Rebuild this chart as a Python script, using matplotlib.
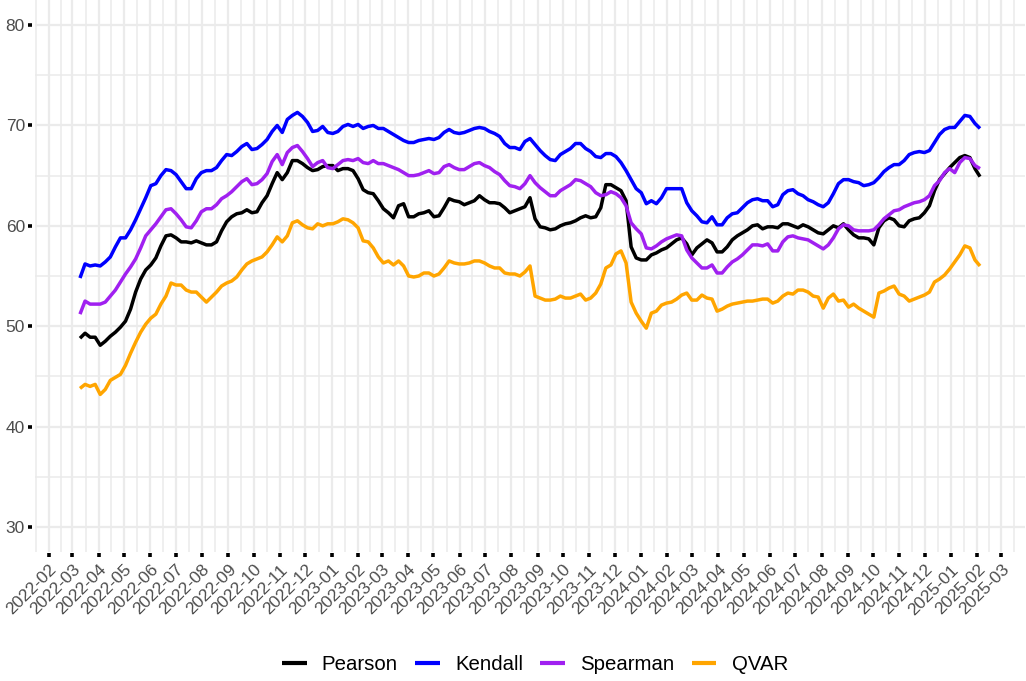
import matplotlib
matplotlib.use('Agg')
import matplotlib.pyplot as plt
import matplotlib.dates as mdates
import numpy as np
import pandas as pd

plt.rcParams['font.family'] = ['Liberation Sans', 'DejaVu Sans']

# ---- data ----
dates = pd.date_range('2022-03-10', '2025-02-04', periods=179)

pearson = [
    48.8, 49.3, 48.9, 48.9, 48.1, 48.5, 49.0, 49.4, 49.9, 50.5,
    51.7, 53.4, 54.7, 55.6, 56.1, 56.8, 58.0, 59.0, 59.1, 58.8,
    58.4, 58.4, 58.3, 58.5, 58.3, 58.1, 58.1, 58.4, 59.5, 60.4,
    60.9, 61.2, 61.3, 61.6, 61.3, 61.4, 62.3, 63.0, 64.2, 65.3,
    64.6, 65.3, 66.5, 66.5, 66.2, 65.8, 65.5, 65.6, 65.9, 66.0,
    66.0, 65.5, 65.7, 65.7, 65.5, 64.7, 63.6, 63.3, 63.2, 62.5,
    61.7, 61.3, 60.8, 62.0, 62.2, 60.9, 60.9, 61.2, 61.3, 61.5,
    60.9, 61.0, 61.8, 62.7, 62.5, 62.4, 62.1, 62.3, 62.5, 63.0,
    62.6, 62.3, 62.3, 62.2, 61.8, 61.3, 61.5, 61.7, 61.9, 62.8,
    60.7, 59.9, 59.8, 59.6, 59.7, 60.0, 60.2, 60.3, 60.5, 60.8,
    61.0, 60.8, 60.9, 61.8, 64.1, 64.1, 63.8, 63.5, 62.5, 57.9,
    56.8, 56.6, 56.6, 57.1, 57.3, 57.6, 57.8, 58.2, 58.6, 58.8,
    58.2, 57.1, 57.8, 58.2, 58.6, 58.3, 57.4, 57.4, 57.9, 58.6,
    59.0, 59.3, 59.6, 60.0, 60.1, 59.7, 59.9, 59.9, 59.8, 60.2,
    60.2, 60.0, 59.8, 60.1, 59.9, 59.6, 59.3, 59.2, 59.6, 60.0,
    59.8, 60.2, 59.6, 59.1, 58.8, 58.8, 58.7, 58.1, 59.8, 60.5,
    60.8, 60.6, 60.0, 59.9, 60.5, 60.7, 60.8, 61.3, 62.0, 63.5,
    64.6, 65.2, 65.8, 66.3, 66.8, 67.0, 66.8, 65.7, 64.9,
]

kendall = [
    54.8, 56.2, 56.0, 56.1, 56.0, 56.4, 56.9, 57.9, 58.8, 58.8,
    59.6, 60.6, 61.7, 62.8, 64.0, 64.2, 65.0, 65.6, 65.5, 65.1,
    64.4, 63.7, 63.7, 64.7, 65.3, 65.5, 65.5, 65.8, 66.5, 67.1,
    67.0, 67.4, 67.9, 68.2, 67.6, 67.7, 68.1, 68.6, 69.4, 70.0,
    69.3, 70.6, 71.0, 71.3, 70.9, 70.3, 69.4, 69.5, 69.9, 69.3,
    69.2, 69.4, 69.9, 70.1, 69.9, 70.1, 69.7, 69.9, 70.0, 69.7,
    69.7, 69.4, 69.1, 68.8, 68.5, 68.3, 68.3, 68.5, 68.6, 68.7,
    68.6, 68.8, 69.3, 69.6, 69.3, 69.2, 69.3, 69.5, 69.7, 69.8,
    69.7, 69.4, 69.2, 68.9, 68.2, 67.8, 67.8, 67.6, 68.4, 68.7,
    68.1, 67.5, 67.0, 66.6, 66.5, 67.1, 67.4, 67.7, 68.2, 68.2,
    67.7, 67.4, 66.9, 66.8, 67.2, 67.2, 66.9, 66.3, 65.5, 64.6,
    63.7, 63.3, 62.2, 62.5, 62.2, 62.8, 63.7, 63.7, 63.7, 63.7,
    62.3, 61.5, 61.0, 60.4, 60.3, 60.9, 60.1, 60.1, 60.8, 61.2,
    61.3, 61.8, 62.3, 62.6, 62.7, 62.5, 62.5, 61.9, 62.1, 63.1,
    63.5, 63.6, 63.2, 63.0, 62.6, 62.4, 62.1, 61.9, 62.3, 63.2,
    64.2, 64.6, 64.6, 64.4, 64.3, 64.0, 64.1, 64.3, 64.8, 65.4,
    65.8, 66.1, 66.1, 66.5, 67.1, 67.3, 67.4, 67.3, 67.5, 68.3,
    69.1, 69.6, 69.8, 69.8, 70.4, 71.0, 70.9, 70.2, 69.7,
]

spearman = [
    51.2, 52.5, 52.2, 52.2, 52.2, 52.4, 53.0, 53.6, 54.4, 55.2,
    55.9, 56.7, 57.8, 59.0, 59.6, 60.2, 60.9, 61.6, 61.7, 61.2,
    60.6, 59.9, 59.8, 60.5, 61.4, 61.7, 61.7, 62.1, 62.7, 63.0,
    63.4, 63.9, 64.4, 64.7, 64.1, 64.2, 64.6, 65.2, 66.4, 67.1,
    66.1, 67.3, 67.8, 68.0, 67.4, 66.7, 65.9, 66.3, 66.5, 65.8,
    65.7, 66.1, 66.5, 66.6, 66.5, 66.7, 66.3, 66.2, 66.5, 66.2,
    66.2, 66.0, 65.8, 65.6, 65.3, 65.0, 65.0, 65.1, 65.3, 65.5,
    65.2, 65.3, 65.9, 66.1, 65.8, 65.6, 65.6, 65.9, 66.2, 66.3,
    66.0, 65.8, 65.4, 65.1, 64.5, 64.0, 63.9, 63.7, 64.2, 65.0,
    64.3, 63.8, 63.4, 63.0, 63.0, 63.5, 63.8, 64.1, 64.6, 64.5,
    64.2, 63.9, 63.3, 63.0, 63.1, 63.4, 63.2, 62.8, 62.0, 60.3,
    59.7, 59.2, 57.8, 57.7, 58.0, 58.4, 58.7, 58.9, 59.1, 59.0,
    57.6, 56.8, 56.3, 55.8, 55.8, 56.1, 55.3, 55.3, 55.9, 56.4,
    56.7, 57.1, 57.6, 58.1, 58.1, 58.0, 58.2, 57.5, 57.5, 58.4,
    58.9, 59.0, 58.8, 58.7, 58.6, 58.3, 58.0, 57.7, 58.1, 58.8,
    59.7, 60.1, 60.0, 59.6, 59.5, 59.5, 59.5, 59.6, 60.1, 60.7,
    61.1, 61.5, 61.6, 61.9, 62.1, 62.3, 62.4, 62.6, 63.0, 64.0,
    64.5, 65.3, 65.7, 65.3, 66.3, 66.8, 66.7, 66.0, 65.7,
]

qvar = [
    43.8, 44.2, 44.0, 44.2, 43.2, 43.7, 44.6, 44.9, 45.2, 46.1,
    47.3, 48.4, 49.4, 50.2, 50.8, 51.2, 52.2, 53.0, 54.3, 54.1,
    54.1, 53.6, 53.4, 53.4, 52.9, 52.4, 52.9, 53.4, 54.0, 54.3,
    54.5, 54.9, 55.6, 56.2, 56.5, 56.7, 56.9, 57.4, 58.1, 58.9,
    58.4, 59.0, 60.3, 60.5, 60.1, 59.8, 59.7, 60.2, 60.0, 60.2,
    60.2, 60.4, 60.7, 60.6, 60.3, 59.8, 58.5, 58.4, 57.8, 56.9,
    56.3, 56.5, 56.1, 56.5, 56.0, 55.0, 54.9, 55.0, 55.3, 55.3,
    55.0, 55.2, 55.8, 56.5, 56.3, 56.2, 56.2, 56.3, 56.5, 56.5,
    56.3, 56.0, 55.8, 55.8, 55.3, 55.2, 55.2, 55.0, 55.4, 56.0,
    53.0, 52.8, 52.6, 52.6, 52.7, 53.0, 52.8, 52.8, 53.0, 53.2,
    52.6, 52.8, 53.3, 54.2, 55.8, 56.1, 57.2, 57.5, 56.3, 52.4,
    51.3, 50.5, 49.8, 51.3, 51.5, 52.1, 52.3, 52.4, 52.7, 53.1,
    53.3, 52.6, 52.6, 53.1, 52.8, 52.7, 51.5, 51.7, 52.0, 52.2,
    52.3, 52.4, 52.5, 52.5, 52.6, 52.7, 52.7, 52.3, 52.5, 53.0,
    53.3, 53.2, 53.6, 53.6, 53.4, 53.0, 52.9, 51.8, 52.8, 53.2,
    52.5, 52.6, 51.9, 52.2, 51.8, 51.5, 51.2, 50.9, 53.3, 53.5,
    53.8, 54.0, 53.2, 53.0, 52.5, 52.7, 52.9, 53.1, 53.4, 54.4,
    54.7, 55.1, 55.7, 56.4, 57.1, 58.0, 57.8, 56.6, 56.0,
]

series_names = ['Pearson', 'Kendall', 'Spearman', 'QVAR']
series_colors = ['#000000', '#0000FF', '#A020F0', '#FFA500']
y_ticks = [30, 40, 50, 60, 70, 80]
y_minor = [35, 45, 55, 65, 75]
x_tick_months = pd.date_range('2022-02-01', '2025-03-01', freq='MS')

# ---- figure ----
W, H = 1026, 681
fig = plt.figure(figsize=(W / 100, H / 100), dpi=100)
ax = fig.add_axes([35 / W, 1 - 552 / H, 990 / W, 552 / H])

for name, vals, col in zip(series_names, [pearson, kendall, spearman, qvar], series_colors):
    ax.plot(dates, vals, color=col, lw=2.5, label=name,
            solid_joinstyle='round', solid_capstyle='butt')

ax.set_ylim(27.5, 82.5)
x0 = mdates.date2num(dates[0])
x1 = mdates.date2num(dates[-1])
pad = 0.05 * (x1 - x0)
ax.set_xlim(x0 - pad, x1 + pad)

ax.set_xticks(mdates.date2num(x_tick_months))
ax.set_xticklabels([d.strftime('%Y-%m') for d in x_tick_months])
ext = mdates.date2num(pd.date_range('2021-12-01', '2025-05-01', freq='MS'))
minor_x = (ext[:-1] + ext[1:]) / 2
minor_x = minor_x[(minor_x >= x0 - pad) & (minor_x <= x1 + pad)]
ax.set_xticks(minor_x, minor=True)

ax.set_yticks(y_ticks)
ax.set_yticks(y_minor, minor=True)

ax.grid(which='major', color='#ebebeb', lw=1.6)
ax.grid(which='minor', color='#ebebeb', lw=1.1)
ax.set_axisbelow(True)

for s in ax.spines.values():
    s.set_visible(False)
ax.spines['left'].set_position(('outward', 2))
ax.spines['bottom'].set_position(('outward', 1))

ax.tick_params(which='major', length=3.2, width=2.6, color='black',
               labelsize=12.5, labelcolor='#4d4d4d')
ax.tick_params(axis='y', which='major', pad=2)
ax.tick_params(axis='x', which='major', pad=3)
ax.tick_params(which='minor', length=0, width=0)

for lab in ax.get_xticklabels():
    lab.set_rotation(45)
    lab.set_horizontalalignment('right')
    lab.set_verticalalignment('top')
    lab.set_rotation_mode('anchor')

leg = fig.legend(loc='center', bbox_to_anchor=(535 / W, 1 - 665 / H), ncol=4,
                 frameon=False, fontsize=14.7, handlelength=1.2,
                 handletextpad=0.75, columnspacing=0.85)
for line in leg.get_lines():
    line.set_linewidth(3.0)

fig.savefig('out.png', dpi=100)
